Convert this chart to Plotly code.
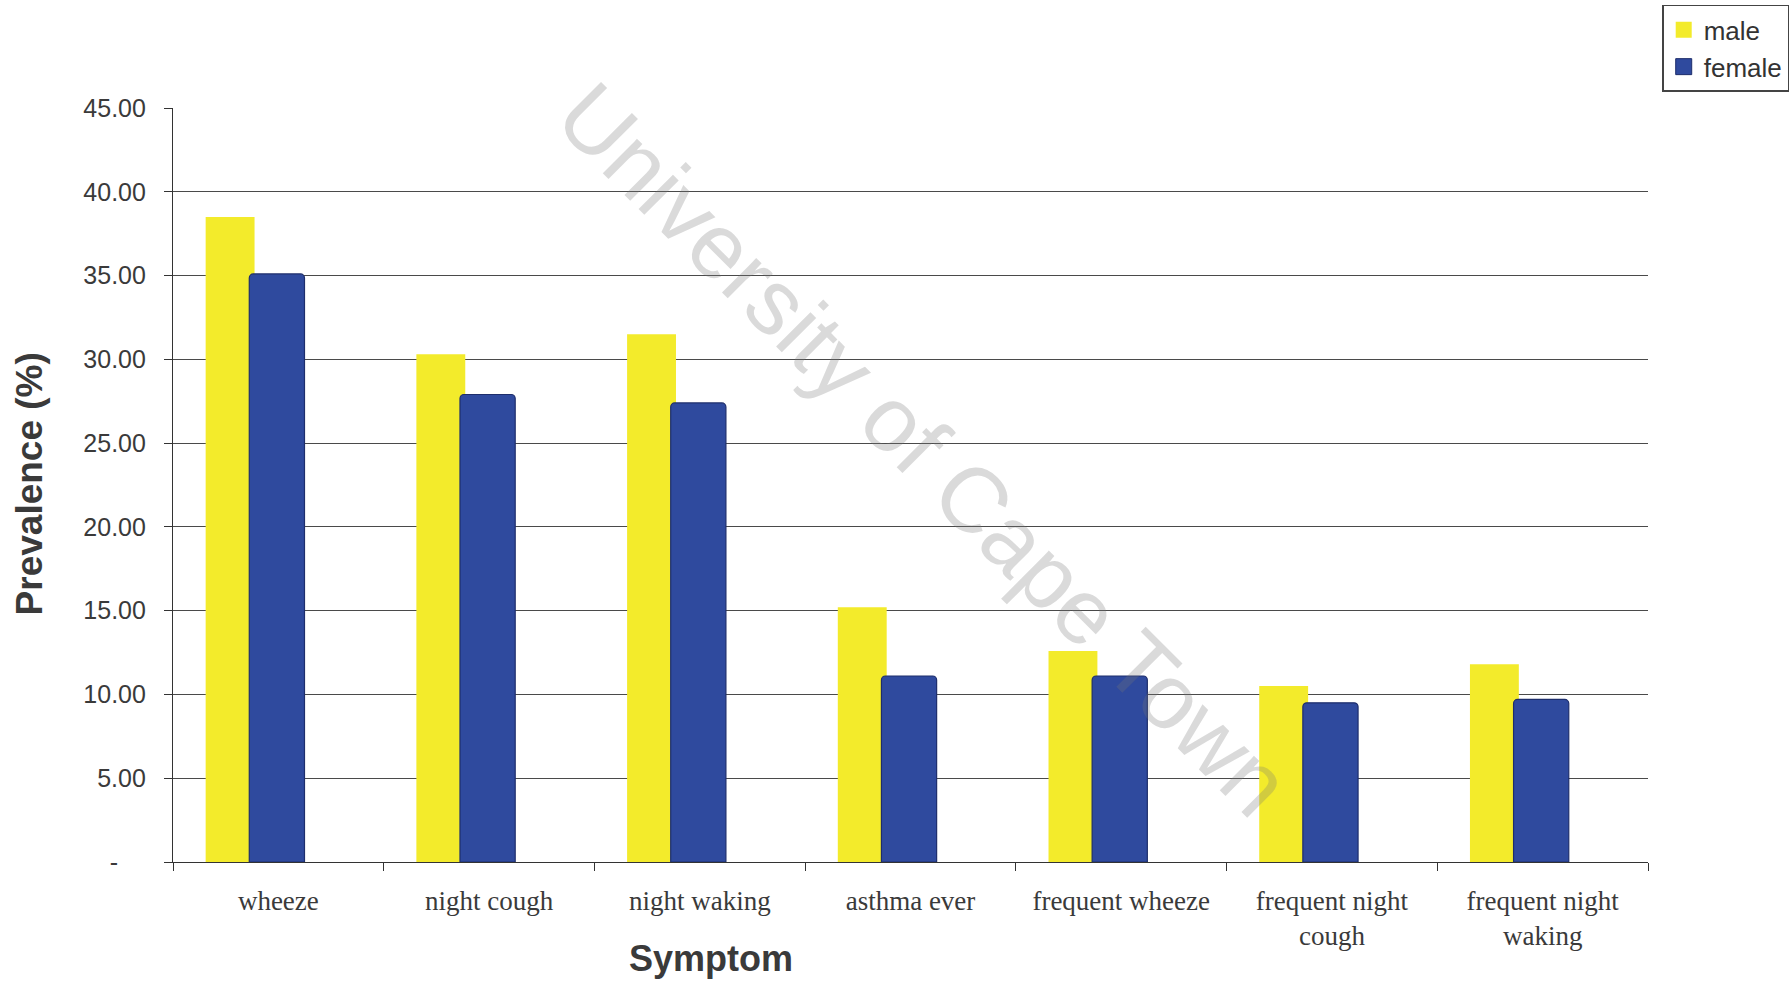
import plotly.graph_objects as go

# Symptom prevalence by sex (%)
categories = [
    "wheeze",
    "night cough",
    "night waking",
    "asthma ever",
    "frequent wheeze",
    "frequent night<br>cough",
    "frequent night<br>waking",
]
male = [38.5, 30.3, 31.5, 15.2, 12.6, 10.5, 11.8]
female = [35.1, 27.9, 27.4, 11.1, 11.1, 9.5, 9.7]

y_tickvals = [0, 5, 10, 15, 20, 25, 30, 35, 40, 45]
y_ticktext = ["-\u00a0\u00a0\u00a0\u00a0", "5.00", "10.00", "15.00", "20.00",
              "25.00", "30.00", "35.00", "40.00", "45.00"]

YELLOW = "#F3EB2B"
BLUE = "#2F4A9E"
TEXT = "#3a3a3a"

fig = go.Figure()

fig.add_trace(go.Bar(
    x=categories, y=male, name="male",
    marker=dict(color=YELLOW, line=dict(width=0)),
    offset=-0.345, width=0.232, showlegend=False,
))
fig.add_trace(go.Bar(
    x=categories, y=female, name="female",
    marker=dict(color=BLUE, line=dict(color="#1E2E6C", width=1.2), cornerradius=4),
    offset=-0.138, width=0.262, showlegend=False,
))

# legend entries with larger square swatches
fig.add_trace(go.Scatter(
    x=[None], y=[None], mode="markers", name="male",
    marker=dict(symbol="square", size=16, color=YELLOW),
))
fig.add_trace(go.Scatter(
    x=[None], y=[None], mode="markers", name="female",
    marker=dict(symbol="square", size=16, color=BLUE, line=dict(color="#1E2E6C", width=1)),
))

fig.update_layout(
    width=1791, height=985,
    margin=dict(l=173, r=143, t=108, b=123),
    paper_bgcolor="white", plot_bgcolor="white",
    barmode="overlay",
    font=dict(family="Liberation Sans, Arial, sans-serif", color=TEXT),
    legend=dict(
        xref="container", yref="container",
        x=0.999, y=0.995, xanchor="right", yanchor="top",
        bordercolor="#444444", borderwidth=1.5, bgcolor="white",
        font=dict(size=26, color="#333333"),
        itemwidth=30, tracegroupgap=0,
    ),
    xaxis=dict(
        type="category",
        tickson="boundaries",
        ticks="outside", ticklen=8, tickcolor="#333333", tickwidth=1,
        showline=True, linecolor="#333333", linewidth=1.2,
        showgrid=False,
        tickfont=dict(family="Liberation Serif, Times New Roman, serif", size=27, color=TEXT),
        ticklabelstandoff=14,
        range=[-0.5, 6.5],
    ),
    yaxis=dict(
        range=[0, 45],
        tickmode="array", tickvals=y_tickvals, ticktext=y_ticktext,
        ticks="outside", ticklen=8, tickcolor="#333333", tickwidth=1,
        showline=True, linecolor="#333333", linewidth=1.2,
        showgrid=True, gridcolor="#4a4a4a", gridwidth=1.2,
        zeroline=False,
        tickfont=dict(size=25, color=TEXT),
        ticklabelstandoff=13,
    ),
    annotations=[
        dict(text="<b>Prevalence (%)</b>", textangle=-90,
             xref="paper", yref="paper", x=-0.097, y=0.502,
             xanchor="center", yanchor="middle", showarrow=False,
             font=dict(size=37, color=TEXT)),
        dict(text="<b>Symptom</b>",
             xref="paper", yref="paper", x=0.365, y=-0.128,
             xanchor="center", yanchor="middle", showarrow=False,
             font=dict(size=36, color=TEXT)),
        dict(text="University of Cape Town", textangle=45,
             xref="paper", yref="paper", x=0.509, y=0.548,
             xanchor="center", yanchor="middle", showarrow=False,
             font=dict(size=92, color="rgba(120,120,120,0.27)")),
    ],
)

fig.write_html("out.html")
